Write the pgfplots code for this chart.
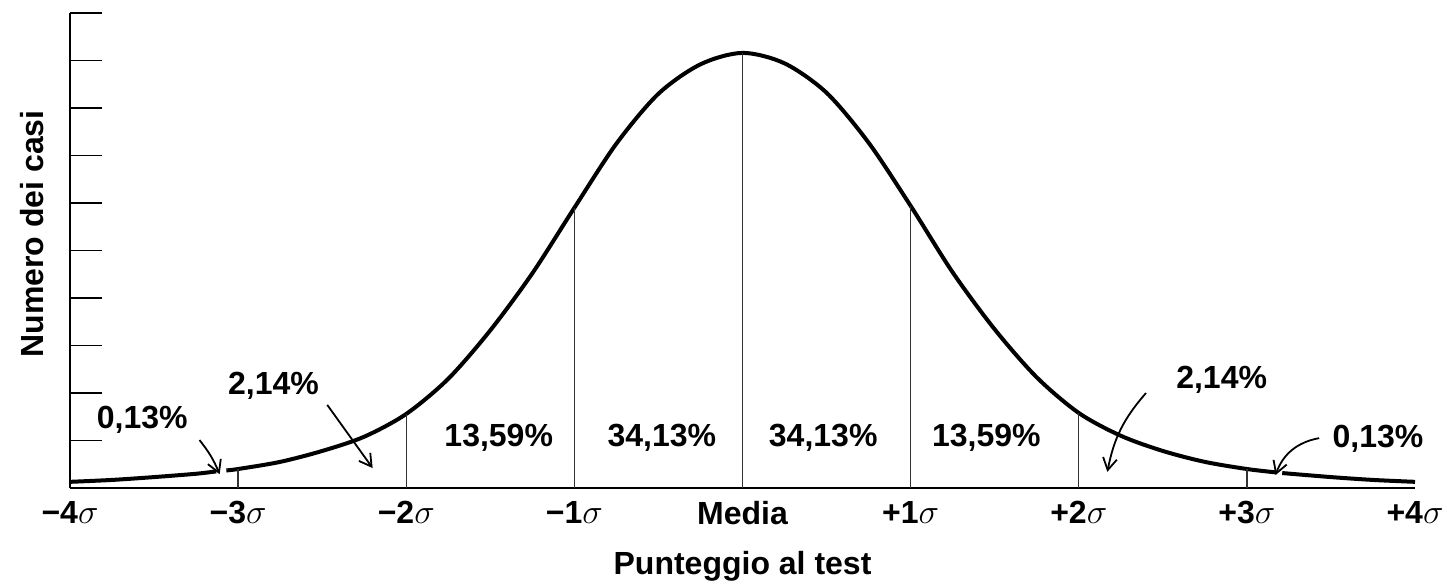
\documentclass[border=0pt]{standalone}
\usepackage{fontspec}
\setmainfont{Liberation Sans}
\usepackage{pgfplots}
\pgfplotsset{compat=1.18}
\usetikzlibrary{arrows.meta}

% curve, x in sigma, y in tick units
\pgfplotstableread{
x y
-4.00 0.13
-3.75 0.17
-3.50 0.23
-3.25 0.30
-3.13 0.35
}\tailL
\pgfplotstableread{
x y
-3.07 0.37
-3.00 0.40
-2.75 0.55
-2.50 0.78
-2.25 1.08
-2.00 1.56
-1.75 2.30
-1.50 3.32
-1.25 4.52
-1.00 5.90
-0.75 7.25
-0.50 8.30
-0.25 8.92
0.00 9.16
0.25 8.94
0.50 8.32
0.75 7.27
1.00 5.94
1.25 4.54
1.50 3.34
1.75 2.33
2.00 1.58
2.25 1.10
2.50 0.78
2.75 0.55
3.00 0.40
3.17 0.33
}\body
\pgfplotstableread{
x y
3.21 0.315
3.50 0.23
3.75 0.17
4.00 0.13
}\tailR

\begin{document}
\begin{tikzpicture}[font=\fontsize{16}{19}\selectfont\bfseries]
\begin{axis}[
  name=ax,
  width=672.5pt, height=237.5pt,
  scale only axis,
  xmin=-4, xmax=4, ymin=0, ymax=10,
  axis lines=left,
  axis line style={-, line width=1.4pt},
  clip=false,
  xtick={-4,-3,-2,-1,0,1,2,3,4},
  xticklabels={−4$\sigma$,−3$\sigma$,−2$\sigma$,−1$\sigma$,Media,+1$\sigma$,+2$\sigma$,+3$\sigma$,+4$\sigma$},
  x tick style={draw=none},
  xticklabel style={yshift=-3pt},
  ytick={1,2,...,10},
  yticklabels={},
  y tick style={line width=0.9pt, black},
  tick align=inside,
  major tick length=16pt,
  xlabel={Punteggio al test},
  ylabel={Numero dei casi},
  xlabel style={at={(axis description cs:0.5,-0.164)}, anchor=center},
  ylabel style={at={(axis description cs:-0.028,0.535)}, anchor=center},
]
\addplot[line width=2pt, smooth] table[x=x,y=y] {\tailL};
\addplot[line width=2pt, smooth] table[x=x,y=y] {\body};
\addplot[line width=2pt, smooth] table[x=x,y=y] {\tailR};
\addplot[ycomb, line width=0.7pt, black!80] coordinates {
  (-3,0.40) (-2,1.56) (-1,5.90) (0,9.16) (1,5.94) (2,1.58) (3,0.40)};

\node at (axis cs:-1.45,1.05) {13,59\%};
\node at (axis cs:-0.48,1.05) {34,13\%};
\node at (axis cs:0.48,1.05) {34,13\%};
\node at (axis cs:1.45,1.05) {13,59\%};
\node at (axis cs:-3.57,1.43) {0,13\%};
\node at (axis cs:-2.79,2.15) {2,14\%};
\node at (axis cs:2.85,2.27) {2,14\%};
\node at (axis cs:3.78,1.03) {0,13\%};

\draw[line width=0.9pt, -{Straight Barb[length=6pt,width=7pt]}]
  (axis cs:-3.23,1.01) to[bend left=8] (axis cs:-3.11,0.29);
\draw[line width=0.9pt, -{Straight Barb[length=6pt,width=7pt]}]
  (axis cs:-2.47,1.75) -- (axis cs:-2.20,0.42);
\draw[line width=0.9pt, -{Straight Barb[length=6pt,width=7pt]}]
  (axis cs:2.40,2.00) to[bend right=15] (axis cs:2.17,0.34);
\draw[line width=0.9pt, -{Straight Barb[length=6pt,width=7pt]}]
  (axis cs:3.43,1.05) to[bend right=30] (axis cs:3.17,0.27);
\end{axis}
\pgfresetboundingbox
\path[use as bounding box] ([shift={(-35pt,-48.5pt)}]ax.south west) rectangle ([shift={(16pt,6.5pt)}]ax.north east);
\end{tikzpicture}
\end{document}
